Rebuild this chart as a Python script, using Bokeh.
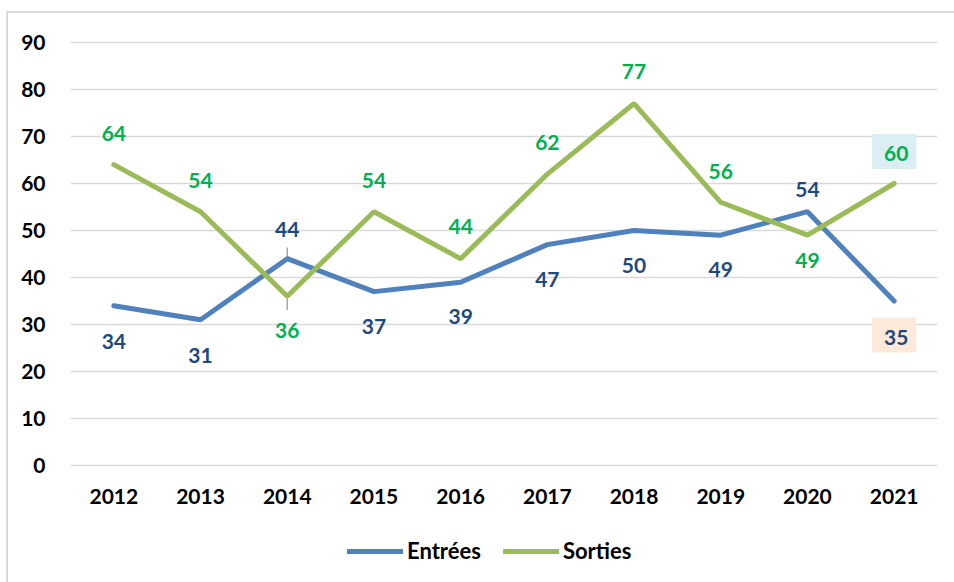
from bokeh.plotting import figure
from bokeh.layouts import column
from bokeh.models import Range1d, FactorRange, Legend, LegendItem, FixedTicker, ColumnDataSource
from bokeh.core.properties import value
from bokeh.embed import file_html
from bokeh.resources import INLINE

years = ["2012", "2013", "2014", "2015", "2016", "2017", "2018", "2019", "2020", "2021"]
entrees = [34, 31, 44, 37, 39, 47, 50, 49, 54, 35]
sorties = [64, 54, 36, 54, 44, 62, 77, 56, 49, 60]
y_ticks = [0, 10, 20, 30, 40, 50, 60, 70, 80, 90]
series_names = ["Entrées", "Sorties"]

# label offsets in screen px (negative = above)
entrees_off = [36, 36, -29, 35, 34, 35, 35, 34, -22, 34]
sorties_off = [-31, -31, 34, -31, -32, -32, -32, -31, 25, -32]

FONT = value("Lato")
BLUE = "#4F81BD"
GREEN = "#9BBB59"
BLUE_TXT = "#1F497D"
GREEN_TXT = "#00B050"

p = figure(width=954, height=520, x_range=FactorRange(*years, range_padding=0),
           y_range=Range1d(-0.2, 90.2), output_backend="svg", toolbar_location=None,
           min_border_left=70, min_border_right=17, min_border_top=41, min_border_bottom=54)
p.outline_line_color = None
p.border_fill_color = None
p.background_fill_color = None

p.xgrid.grid_line_color = None
p.ygrid.grid_line_color = "#D9D9D9"
p.ygrid.grid_line_width = 1.5
p.yaxis.ticker = FixedTicker(ticks=y_ticks)
for ax in (p.xaxis[0], p.yaxis[0]):
    ax.axis_line_color = None
    ax.major_tick_line_color = None
    ax.minor_tick_line_color = None
    ax.major_label_text_font = "Lato"
    ax.major_label_text_font_style = "bold"
    ax.major_label_text_font_size = "21px"
    ax.major_label_text_color = "#000000"
p.yaxis.major_label_standoff = 19
p.xaxis.major_label_standoff = 16

# leader lines at 2014
p.segment(x0=[years[2]], y0=[entrees[2]], x1=[years[2]], y1=[entrees[2] + 2.4],
          line_color="#A6A6A6", line_width=1.5)
p.segment(x0=[years[2]], y0=[sorties[2]], x1=[years[2]], y1=[sorties[2] - 2.9],
          line_color="#A6A6A6", line_width=1.5)

p.line(years, entrees, line_color=BLUE, line_width=5, line_cap="round")
p.line(years, sorties, line_color=GREEN, line_width=5, line_cap="round")

src_e = ColumnDataSource(dict(x=years[:-1], y=entrees[:-1], t=[str(v) for v in entrees[:-1]], o=entrees_off[:-1]))
src_s = ColumnDataSource(dict(x=years[:-1], y=sorties[:-1], t=[str(v) for v in sorties[:-1]], o=sorties_off[:-1]))
for src, col in ((src_e, BLUE_TXT), (src_s, GREEN_TXT)):
    p.text(x="x", y="y", text="t", y_offset="o", source=src, text_align="center",
           text_baseline="middle", text_font=FONT, text_font_style="bold",
           text_font_size="21px", text_color=col)

p.text(x=[years[-1]], y=[entrees[-1]], text=[str(entrees[-1])], y_offset=entrees_off[-1],
       text_align="center", text_baseline="middle", text_font=FONT, text_font_style="bold",
       text_font_size="21px", text_color=BLUE_TXT, background_fill_color="#FDE9D9",
       padding=(12, 8, 12, 8))
p.text(x=[years[-1]], y=[sorties[-1]], text=[str(sorties[-1])], y_offset=sorties_off[-1],
       text_align="center", text_baseline="middle", text_font=FONT, text_font_style="bold",
       text_font_size="21px", text_color=GREEN_TXT, background_fill_color="#DAEEF3",
       padding=(12, 8, 12, 8))

# legend strip (series drawn out of its view; only the legend shows)
pl = figure(width=954, height=62, x_range=Range1d(0, 1), y_range=Range1d(0, 1),
            output_backend="svg", toolbar_location=None,
            x_axis_location=None, y_axis_location=None,
            min_border_left=0, min_border_right=0, min_border_top=0, min_border_bottom=0)
pl.grid.visible = False
pl.outline_line_color = None
pl.border_fill_color = None
pl.background_fill_color = None
l1 = pl.line(x=[0, 1], y=entrees[:2], line_color=BLUE, line_width=5, line_cap="round")
l2 = pl.line(x=[0, 1], y=sorties[:2], line_color=GREEN, line_width=5, line_cap="round")
legend = Legend(items=[LegendItem(label=series_names[0], renderers=[l1]),
                       LegendItem(label=series_names[1], renderers=[l2])],
                orientation="horizontal", location=(277, 18),
                label_text_font="Lato", label_text_font_style="bold",
                label_text_font_size="22px", label_text_color="#000000",
                glyph_width=56, glyph_height=24, label_height=24, label_standoff=4, spacing=22,
                padding=4, margin=0, border_line_color=None, background_fill_alpha=0)
pl.add_layout(legend, "center")

layout = column(p, pl, spacing=0)
layout.styles = {
    "background": "linear-gradient(#D9D9D9,#D9D9D9) 6px 11px / 2px 100% no-repeat, "
                  "linear-gradient(#D9D9D9,#D9D9D9) 6px 11px / 100% 2px no-repeat, #FFFFFF",
}

open("out.html", "w").write(file_html(layout, INLINE))
